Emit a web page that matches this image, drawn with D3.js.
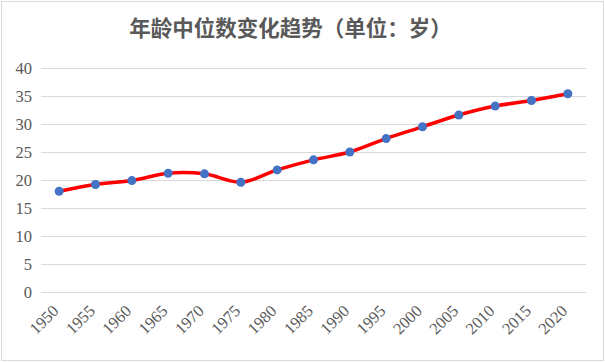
<!DOCTYPE html>
<html>
<head>
<meta charset="utf-8">
<script src="https://cdn.jsdelivr.net/npm/d3@7"></script>
<style>
  body { margin: 0; background: #fff; }
  svg { display: block; }
</style>
</head>
<body>
<div id="chart"></div>
<script>
const years = ['1950','1955','1960','1965','1970','1975','1980','1985','1990','1995','2000','2005','2010','2015','2020'];
const medianAge = [18.0, 19.2, 19.9, 21.2, 21.1, 19.6, 21.8, 23.6, 25.0, 27.4, 29.5, 31.6, 33.2, 34.2, 35.4];
const yTicks = [0, 5, 10, 15, 20, 25, 30, 35, 40];
const title = '年龄中位数变化趋势（单位：岁）';

const width = 605, height = 362;
const margin = { top: 68, right: 19, bottom: 70, left: 41 };

const svg = d3.select('#chart').append('svg')
  .attr('width', width)
  .attr('height', height);

// chart frame
svg.append('rect')
  .attr('x', 1.5).attr('y', 1.5)
  .attr('width', width - 3).attr('height', height - 3)
  .attr('fill', '#fff')
  .attr('stroke', '#d9d9d9');

svg.append('text')
  .attr('x', width / 2 - 12)
  .attr('y', 36)
  .attr('text-anchor', 'middle')
  .attr('font-family', '"Noto Sans CJK SC", sans-serif')
  .attr('font-weight', 'bold')
  .attr('font-size', 21.5)
  .attr('fill', '#595959')
  .text(title);

const x = d3.scalePoint()
  .domain(years)
  .range([margin.left, width - margin.right])
  .padding(0.5);

const y = d3.scaleLinear()
  .domain([0, 40])
  .range([height - margin.bottom, margin.top]);

// gridlines
svg.append('g')
  .selectAll('line')
  .data(yTicks)
  .join('line')
  .attr('x1', margin.left)
  .attr('x2', width - margin.right)
  .attr('y1', d => y(d) + 0.5)
  .attr('y2', d => y(d) + 0.5)
  .attr('stroke', '#d9d9d9')
  .attr('stroke-width', 1);

// y axis labels
const yAxis = svg.append('g')
  .attr('transform', `translate(${margin.left - 9},0)`)
  .call(d3.axisLeft(y).tickValues(yTicks).tickSize(0).tickPadding(0));
yAxis.select('.domain').remove();
yAxis.selectAll('text')
  .attr('font-family', '"Liberation Serif", "Times New Roman", serif')
  .attr('font-size', 16.5)
  .attr('fill', '#595959');

// x axis labels
const xAxis = svg.append('g')
  .attr('transform', `translate(0,${height - margin.bottom})`)
  .call(d3.axisBottom(x).tickSize(0).tickPadding(0));
xAxis.select('.domain').remove();
xAxis.selectAll('text')
  .attr('font-family', '"Liberation Serif", "Times New Roman", serif')
  .attr('font-size', 16.5)
  .attr('fill', '#595959')
  .attr('text-anchor', 'end')
  .attr('dy', null)
  .attr('transform', 'translate(0,20) rotate(-45)');

const points = years.map((yr, i) => ({ yr, v: medianAge[i] }));

const line = d3.line()
  .x(d => x(d.yr))
  .y(d => y(d.v))
  .curve(d3.curveCatmullRom.alpha(0.5));

svg.append('path')
  .datum(points)
  .attr('d', line)
  .attr('fill', 'none')
  .attr('stroke', '#ff0000')
  .attr('stroke-width', 3.5)
  .attr('stroke-linecap', 'round');

svg.append('g')
  .selectAll('circle')
  .data(points)
  .join('circle')
  .attr('cx', d => x(d.yr))
  .attr('cy', d => y(d.v))
  .attr('r', 4.5)
  .attr('fill', '#4472c4');
</script>
</body>
</html>
